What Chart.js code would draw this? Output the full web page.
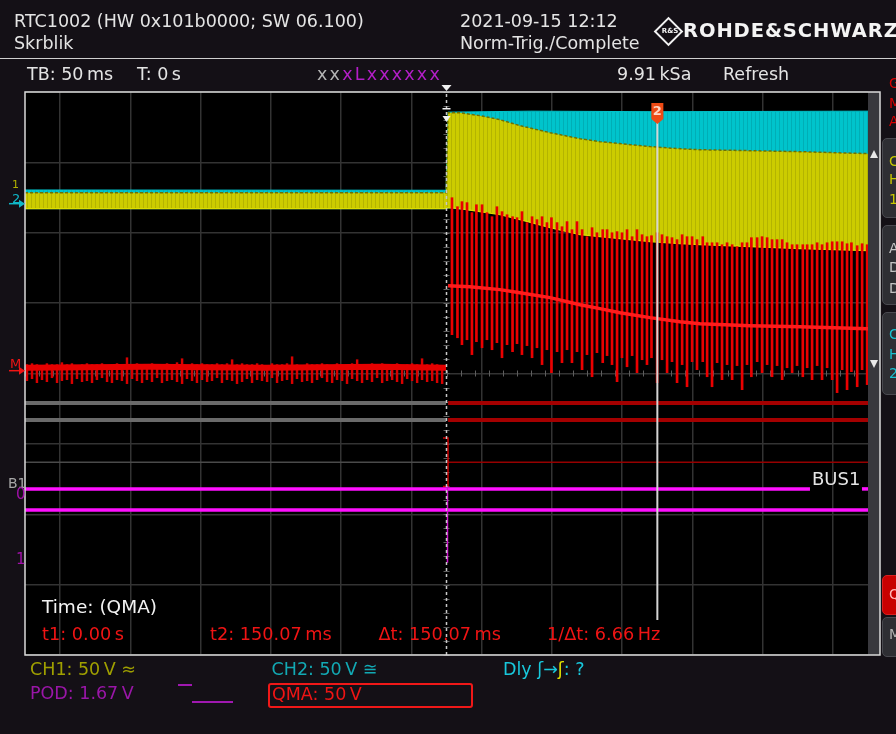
<!DOCTYPE html>
<html>
<head>
<meta charset="utf-8">
<title>RTC1002 – Skrblik</title>
<script src="https://cdn.jsdelivr.net/npm/chart.js@4.4.1/dist/chart.umd.min.js"></script>
<style>
  html, body { margin: 0; padding: 0; background: #141016; }
  #screen { position: relative; width: 896px; height: 734px; overflow: hidden; background: #141016; }
  #scope { position: absolute; left: 0; top: 0; }
  .t { position: absolute; font-family: 'DejaVu Sans', sans-serif; font-size: 17.5px; line-height: 1; white-space: pre; color: #e4e4e4; }
  .hr { position: absolute; left: 0; top: 57.5px; width: 896px; height: 1.5px; background: #cfcfcf; }
  .logo { position: absolute; left: 658px; top: 21px; width: 17px; height: 17px; border: 2px solid #f2f2f2; transform: rotate(45deg); }
  .logo span { position: absolute; left: 1px; top: 3px; font-family: 'DejaVu Sans', sans-serif; font-size: 7px; font-weight: bold; color: #f2f2f2; transform: rotate(-45deg); }
  .brand { font-weight: bold; font-size: 19.5px; letter-spacing: 0.9px; color: #f4f4f4; }
  .tab { position: absolute; left: 882px; width: 24px; background: #2e2e33; border: 1px solid #4a4a50; border-radius: 5px; box-sizing: border-box; }
  .side { font-size: 14px; left: 889px; }
  .red { color: #f01414; }
  .qbox { position: absolute; left: 268px; top: 683px; width: 205px; height: 25px; border: 2px solid #f01818; border-radius: 3px; box-sizing: border-box; }
  .pulse { position: absolute; height: 2px; background: #a018b0; }
</style>
</head>
<body>
<div id="screen">
  <canvas id="scope" width="896" height="734"></canvas>

  <!-- instrument header -->
  <div class="t" style="left:14px;top:13px">RTC1002 (HW 0x101b0000; SW 06.100)</div>
  <div class="t" style="left:14px;top:34.5px">Skrblik</div>
  <div class="t" style="left:460px;top:13px">2021-09-15 12:12</div>
  <div class="t" style="left:460px;top:34.5px">Norm-Trig./Complete</div>
  <div class="logo"><span>R&amp;S</span></div>
  <div class="t brand" style="left:683px;top:20.5px">ROHDE&amp;SCHWARZ</div>
  <div class="hr"></div>

  <!-- acquisition status row -->
  <div class="t" style="left:27px;top:66px">TB: 50&#8201;ms</div>
  <div class="t" style="left:137px;top:66px">T: 0&#8201;s</div>
  <div class="t" style="left:317px;top:66px;letter-spacing:2.2px"><span style="color:#b4b4b4">xx</span><span style="color:#b41ec8">xLxxxxxx</span></div>
  <div class="t" style="left:617px;top:66px">9.91&#8201;kSa</div>
  <div class="t" style="left:723px;top:66px">Refresh</div>

  <!-- side menu tabs -->
  <div class="t side" style="top:75.5px;color:#d80000">G</div>
  <div class="t side" style="top:95.5px;color:#d80000">M</div>
  <div class="t side" style="top:113.5px;color:#d80000">A</div>
  <div class="tab" style="top:138px;height:80px"></div>
  <div class="t side" style="top:153.5px;color:#c8c800">C</div>
  <div class="t side" style="top:171.5px;color:#c8c800">H</div>
  <div class="t side" style="top:191.5px;color:#c8c800">1</div>
  <div class="tab" style="top:225px;height:80px"></div>
  <div class="t side" style="top:240.5px;color:#c4c4c4">A</div>
  <div class="t side" style="top:259.5px;color:#c4c4c4">D</div>
  <div class="t side" style="top:280.5px;color:#c4c4c4">D</div>
  <div class="tab" style="top:312px;height:83px"></div>
  <div class="t side" style="top:326.5px;color:#18c0d0">C</div>
  <div class="t side" style="top:346.5px;color:#18c0d0">H</div>
  <div class="t side" style="top:365.5px;color:#18c0d0">2</div>
  <div class="tab" style="top:575px;height:40px;background:#c80000;border-color:#d82020"></div>
  <div class="t side" style="top:586.5px;color:#ffb4b4">Q</div>
  <div class="tab" style="top:617px;height:40px"></div>
  <div class="t side" style="top:626.5px;color:#b4b4b4">M</div>

  <!-- channel markers on the left edge -->
  <div class="t" style="left:12px;top:178.5px;font-size:11px;color:#b0b000">1</div>
  <div class="t" style="left:12px;top:191.5px;font-size:13px;color:#10b8c8">2</div>
  <div class="t" style="left:10px;top:356.5px;font-size:13px;color:#f01414">M</div>
  <div class="t" style="left:8px;top:475.5px;font-size:14px;color:#a8a8a8">B1</div>
  <div class="t" style="left:16px;top:486.5px;font-size:15px;color:#a010a8">0</div>
  <div class="t" style="left:16px;top:551.5px;font-size:15px;color:#a010a8">1</div>
  <div class="t" style="left:812px;top:469.5px;font-size:18px;color:#e4e4e4">BUS1</div>

  <!-- cursor measurement readout -->
  <div class="t" style="left:42px;top:598px;font-size:18.5px;color:#f2f2f2">Time: (QMA)</div>
  <div class="t red" id="t1txt" style="left:42px;top:625.5px;font-size:17.7px"></div>
  <div class="t red" id="t2txt" style="left:210px;top:625.5px;font-size:17.7px"></div>
  <div class="t red" id="dttxt" style="left:378.5px;top:625.5px;font-size:17.7px"></div>
  <div class="t red" id="ftxt" style="left:547px;top:625.5px;font-size:17.7px"></div>

  <!-- channel settings footer -->
  <div class="t" style="left:30px;top:661px;color:#a0a000">CH1: 50&#8201;V &#8776;</div>
  <div class="t" style="left:271.5px;top:661px;color:#12a9b4">CH2: 50&#8201;V &#8773;</div>
  <div class="t" style="left:503px;top:661px;color:#18c8dc">Dly &#643;&#8594;<span style="color:#e0e000">&#643;</span>: ?</div>
  <div class="t" style="left:30px;top:684.5px;color:#9a16a8">POD: 1.67&#8201;V</div>
  <div class="pulse" style="left:178px;top:684px;width:14px"></div>
  <div class="pulse" style="left:192px;top:700.5px;width:41px"></div>
  <div class="qbox"></div>
  <div class="t red" style="left:272px;top:686px">QMA: 50&#8201;V</div>
</div>

<script>
// ---- time base / vertical settings ----
const timeMin = -300, timeMax = 300, msPerDiv = 50;   // 12 div x 50 ms
const halfDivs = 4;                                   // 8 vertical divisions
const voltsPerDiv = 50;
const chGroundDiv = 2.47;    // CH1/CH2 ground marker, divisions above centre
const qmaGroundDiv = 0.04;   // QMA ground marker

// ---- CH1 (yellow) envelope, ms / V ----
const ch1Time = [-300, -0.3, 1.1, 9.6, 23.8, 38.1, 52.3, 73.7, 95.0, 109.2, 130.6, 144.8, 166.2, 180.4, 216.0, 251.6, 300];
const ch1High = [5.0, 5.0, 61.8, 61.8, 59.7, 56.8, 52.6, 47.6, 43.3, 41.2, 39.1, 37.7, 36.2, 35.5, 34.8, 34.1, 32.7];
const ch1Low  = [-6.4, -6.4, -5.7, -6.4, -8.5, -10.7, -14.2, -19.9, -24.9, -26.3, -28.4, -29.8, -31.3, -32.0, -33.4, -34.8, -36.2];

// ---- CH2 (cyan) envelope ----
const ch2Time = [-300, -0.3, 1.1, 60.0, 150.0, 300];
const ch2High = [6.9, 6.7, 62.2, 62.9, 62.5, 62.9];
const ch2Low  = [-6.4, -6.4, -5.7, -12.0, -25.0, -36.0];

// ---- QMA (red) baseline ----
const qmaPreTime  = [-300, -212, -131, -47, -0.3];
const qmaPreLevel = [2.1, 2.8, 2.1, 2.8, 2.1];
const qmaPostTime  = [1.1, 16.7, 38.1, 52.3, 73.7, 95.0, 109.2, 123.5, 144.8, 166.2, 180.4, 216.0, 251.6, 300];
const qmaPostLevel = [60.4, 59.7, 57.6, 55.4, 51.9, 46.9, 44.1, 41.2, 37.7, 34.8, 33.4, 32.0, 31.3, 29.8];

// ---- QMA spikes before the trigger ----
const preSpikeTime = [
  -298.6, -295.0, -291.5, -287.9, -284.4, -280.8, -277.2, -273.7, -270.1, -266.6,
  -263.0, -259.4, -255.9, -252.3, -248.8, -245.2, -241.6, -238.1, -234.5, -231.0,
  -227.4, -223.8, -220.3, -216.7, -213.2, -209.6, -206.0, -202.5, -198.9, -195.4,
  -191.8, -188.2, -184.7, -181.1, -177.6, -174.0, -170.4, -166.9, -163.3, -159.8,
  -156.2, -152.6, -149.1, -145.5, -142.0, -138.4, -134.8, -131.3, -127.7, -124.2,
  -120.6, -117.0, -113.5, -109.9, -106.4, -102.8, -99.2, -95.7, -92.1, -88.6,
  -85.0, -81.4, -77.9, -74.3, -70.8, -67.2, -63.6, -60.1, -56.5, -53.0,
  -49.4, -45.8, -42.3, -38.7, -35.2, -31.6, -28.0, -24.5, -20.9, -17.4,
  -13.8, -10.2, -6.7, -3.1];
const preSpikeHigh = [
  4.3, 5.0, 4.3, 3.6, 5.0, 4.3, 4.3, 5.7, 4.3, 5.0,
  3.6, 4.3, 5.0, 4.3, 4.3, 5.0, 3.6, 4.3, 5.0, 4.3,
  9.2, 4.3, 5.0, 4.3, 3.6, 5.0, 4.3, 4.3, 5.0, 4.3,
  5.7, 8.5, 3.6, 5.0, 4.3, 5.0, 4.3, 4.3, 5.0, 4.3,
  5.0, 7.8, 4.3, 5.0, 4.3, 4.3, 5.0, 4.3, 3.6, 5.0,
  4.3, 4.3, 5.0, 9.9, 4.3, 3.6, 5.0, 4.3, 4.3, 5.0,
  4.3, 3.6, 5.0, 4.3, 4.3, 5.0, 7.8, 4.3, 3.6, 5.0,
  4.3, 5.0, 4.3, 4.3, 5.0, 3.6, 4.3, 5.0, 4.3, 8.5,
  4.3, 5.0, 4.3, 3.6];
const preSpikeLow = [
  -7.1, -5.7, -8.5, -6.4, -7.8, -5.0, -8.5, -7.1, -6.4, -9.2,
  -5.7, -7.8, -7.1, -8.5, -6.4, -5.0, -7.8, -8.5, -6.4, -7.1,
  -9.2, -5.7, -7.1, -8.5, -6.4, -7.8, -5.0, -8.5, -7.1, -6.4,
  -7.8, -9.2, -5.7, -7.1, -8.5, -6.4, -7.8, -7.1, -5.0, -8.5,
  -6.4, -7.1, -9.2, -7.8, -5.7, -8.5, -6.4, -7.1, -7.8, -5.0,
  -8.5, -7.1, -6.4, -9.2, -5.7, -7.8, -7.1, -8.5, -6.4, -5.0,
  -7.8, -8.5, -6.4, -7.1, -9.2, -5.7, -7.1, -8.5, -6.4, -7.8,
  -5.0, -8.5, -7.1, -6.4, -7.8, -9.2, -5.7, -7.1, -8.5, -6.4,
  -7.8, -7.1, -8.5, -9.2];

// ---- QMA spikes after the trigger ----
const qmaSpikeTime = [
  3.9, 7.8, 11.0, 14.6, 18.1, 21.3, 25.3, 28.8, 32.4, 35.9,
  39.5, 43.1, 47.0, 50.2, 53.7, 57.3, 60.9, 64.4, 68.0, 71.5,
  74.7, 78.7, 82.2, 85.8, 89.3, 92.9, 96.5, 100.0, 103.6, 107.1,
  111.2, 114.3, 117.8, 121.4, 124.9, 128.5, 132.1, 135.6, 139.2, 142.7,
  145.9, 149.9, 153.4, 157.0, 160.5, 164.1, 167.7, 171.2, 174.8, 178.3,
  182.4, 185.5, 189.0, 192.6, 196.1, 199.7, 203.3, 206.8, 210.4, 213.9,
  217.0, 221.1, 224.6, 228.2, 231.7, 235.3, 238.9, 242.4, 246.0, 249.5,
  253.6, 256.7, 260.2, 263.8, 267.3, 270.9, 274.5, 278.0, 281.6, 285.1,
  288.2, 292.3, 295.8, 299.4];
const qmaSpikeHigh = [
  122.9, 116.5, 120.1, 119.4, 112.3, 117.9, 117.9, 112.3, 109.4, 116.5,
  113.0, 110.8, 109.4, 108.7, 113.0, 105.2, 109.4, 107.3, 109.4, 105.2,
  108.7, 105.2, 102.3, 105.9, 100.2, 105.9, 100.2, 95.2, 101.6, 98.0,
  100.2, 100.2, 98.0, 98.8, 98.0, 100.2, 95.2, 100.2, 96.6, 95.2,
  95.9, 98.0, 96.6, 95.2, 94.5, 93.1, 96.6, 95.2, 95.2, 93.1,
  95.2, 90.9, 90.9, 90.9, 89.5, 90.9, 89.5, 88.1, 90.9, 90.9,
  94.5, 94.5, 95.2, 94.5, 93.1, 93.1, 93.1, 90.9, 89.5, 89.5,
  89.5, 89.5, 89.5, 90.9, 89.5, 90.9, 91.6, 91.6, 91.6, 90.2,
  90.9, 88.8, 90.2, 89.5];
const qmaSpikeLow = [
  25.6, 23.4, 18.5, 22.0, 11.4, 20.6, 16.3, 22.0, 14.9, 19.9,
  9.2, 18.5, 13.5, 19.2, 11.4, 17.8, 9.2, 16.3, 4.3, 14.9,
  -1.4, 13.5, 5.7, 14.9, 5.7, 13.5, 0.7, 11.4, -4.3, 12.8,
  5.7, 10.7, 4.3, -7.8, 9.2, 2.8, 10.7, -1.4, 7.8, 4.3,
  9.2, -8.5, 7.8, -1.4, 6.4, -8.5, 4.3, -11.4, 6.4, 0.7,
  6.4, -4.3, -11.4, 5.7, -6.4, 4.3, -6.4, 3.6, -13.5, 4.3,
  -4.3, 6.4, -1.4, 4.3, -4.3, 3.6, -6.4, 2.1, -1.4, 3.6,
  -4.3, 2.1, -6.4, 3.6, -6.4, 2.1, -6.4, -15.6, 0.7, -13.5,
  -0.7, -11.4, 0.7, -9.9];

// ---- logic probe lanes and bus (divisions) ----
const podLevel = [-0.42, -0.66, -1.26];
const podEdge = [-0.3, 1.1];                  // last sample before / first after the edge
const podStepTime = [-2.5, 1.07, 1.07, -2.5];
const podStepLevel = [-0.915, -0.915, -1.607, -1.607];
const busLevel = [-1.64, -1.94];
const busLabelGap = [258.7, 295.7];           // BUS1 caption interrupts the upper line
const busEdgeTime = [0.7, 0.7];
const busEdgeLevel = [-1.60, -2.69];

// ---- cursors ----
const cursorT1 = 0;
const cursorT2 = 150.07;

// readout text comes from the cursor values
const dt = cursorT2 - cursorT1;
document.getElementById('t1txt').textContent = 't1: ' + (cursorT1 / 1000).toFixed(2) + '\u2009s';
document.getElementById('t2txt').textContent = 't2: ' + cursorT2.toFixed(2) + '\u2009ms';
document.getElementById('dttxt').textContent = '\u0394t: ' + dt.toFixed(2) + '\u2009ms';
document.getElementById('ftxt').textContent = '1/\u0394t: ' + (1000 / dt).toFixed(2) + '\u2009Hz';

// ---- helpers ----
const pts = (ts, vs) => ts.map((t, i) => ({ x: t, y: vs[i] }));
const bars = (ts, lo, hi) => ts.map((t, i) => ({ x: t, y: [lo[i], hi[i]] }));
const range = g => ({ min: (-halfDivs - g) * voltsPerDiv, max: (halfDivs - g) * voltsPerDiv });
const line = o => Object.assign({ type: 'line', pointRadius: 0, tension: 0, fill: false,
                                  borderCapStyle: 'butt', borderJoinStyle: 'miter' }, o);

const canvas = document.getElementById('scope');
const ctx2d = canvas.getContext('2d');
function stripes(base, dark) {
  const tile = document.createElement('canvas');
  tile.width = 4; tile.height = 1;
  const g = tile.getContext('2d');
  g.fillStyle = base; g.fillRect(0, 0, 4, 1);
  g.fillStyle = dark; g.fillRect(3, 0, 1, 1);
  return ctx2d.createPattern(tile, 'repeat');
}
const yellowFill = stripes('#cccc00', '#b4b400');
const cyanFill = stripes('#00c4cc', '#00aeb6');

const datasets = [
  line({ label: 'CH2 max', data: pts(ch2Time, ch2High), yAxisID: 'yCh', borderColor: '#00c4cc', borderWidth: 1,
         backgroundColor: cyanFill, fill: '+1', order: 30 }),
  line({ label: 'CH2 min', data: pts(ch2Time, ch2Low), yAxisID: 'yCh', borderColor: '#00c4cc', borderWidth: 1, order: 29 }),
  line({ label: 'CH1 max', data: pts(ch1Time, ch1High), yAxisID: 'yCh', borderColor: '#707000', borderWidth: 1.5,
         borderDash: [3, 2], backgroundColor: yellowFill, fill: '+1', order: 28 }),
  line({ label: 'CH1 min', data: pts(ch1Time, ch1Low), yAxisID: 'yCh', borderColor: '#dcdc00', borderWidth: 1.2, order: 27 }),
  { type: 'bar', label: 'QMA spikes', data: bars(qmaSpikeTime, qmaSpikeLow, qmaSpikeHigh), yAxisID: 'yQ',
    backgroundColor: '#ea0000', barThickness: 2, grouped: false, order: 26 },
  { type: 'bar', label: 'QMA spikes pre', data: bars(preSpikeTime, preSpikeLow, preSpikeHigh), yAxisID: 'yQ',
    backgroundColor: '#d80000', barThickness: 1.8, grouped: false, order: 25 },
  line({ label: 'QMA pre', data: pts(qmaPreTime, qmaPreLevel), yAxisID: 'yQ', borderColor: '#e60000', borderWidth: 6, order: 24 }),
  line({ label: 'QMA post', data: pts(qmaPostTime, qmaPostLevel), yAxisID: 'yQ', borderColor: '#ff1c1c', borderWidth: 3.5, order: 23 })
];

const podWidth = [4, 4, 1.5];
podLevel.forEach((lv, i) => {
  datasets.push(line({ label: 'D' + i + ' pre', data: [{ x: timeMin, y: lv }, { x: podEdge[0], y: lv }],
    yAxisID: 'yDiv', borderColor: i < 2 ? '#6a6a6a' : '#4a4a4a', borderWidth: podWidth[i], order: 12 }));
  datasets.push(line({ label: 'D' + i + ' post', data: [{ x: podEdge[1], y: lv }, { x: timeMax, y: lv }],
    yAxisID: 'yDiv', borderColor: i < 2 ? '#a40000' : '#960000', borderWidth: podWidth[i], order: 12 }));
});
datasets.push(line({ label: 'D step', data: pts(podStepTime, podStepLevel), yAxisID: 'yDiv',
  borderColor: '#d00000', borderWidth: 1.5, order: 11 }));
datasets.push(line({ label: 'BUS1 hi a', data: [{ x: timeMin, y: busLevel[0] }, { x: busLabelGap[0], y: busLevel[0] }],
  yAxisID: 'yDiv', borderColor: '#ff10ff', borderWidth: 3.5, order: 10 }));
datasets.push(line({ label: 'BUS1 hi b', data: [{ x: busLabelGap[1], y: busLevel[0] }, { x: timeMax, y: busLevel[0] }],
  yAxisID: 'yDiv', borderColor: '#ff10ff', borderWidth: 3.5, order: 10 }));
datasets.push(line({ label: 'BUS1 lo', data: [{ x: timeMin, y: busLevel[1] }, { x: timeMax, y: busLevel[1] }],
  yAxisID: 'yDiv', borderColor: '#ff10ff', borderWidth: 3.5, order: 10 }));
datasets.push(line({ label: 'BUS1 edge', data: pts(busEdgeTime, busEdgeLevel), yAxisID: 'yDiv',
  borderColor: '#d010d0', borderWidth: 1.5, order: 9 }));

// screen furniture: black screen, centre-axis ticks, cursors, markers, frame, scroll bar
const scopeDecor = {
  id: 'scopeDecor',
  beforeDraw(chart) {
    const { ctx, chartArea: a } = chart;
    ctx.save();
    ctx.fillStyle = '#000';
    ctx.fillRect(a.left, a.top, a.right - a.left + 12, a.bottom - a.top);
    ctx.restore();
  },
  beforeDatasetsDraw(chart) {
    const { ctx, chartArea: a, scales } = chart;
    const cx = scales.x.getPixelForValue(0), cy = scales.yDiv.getPixelForValue(0);
    ctx.save();
    ctx.strokeStyle = '#5e5e5e';
    ctx.lineWidth = 1;
    ctx.beginPath();
    for (let t = timeMin; t <= timeMax; t += msPerDiv / 5) {
      const px = Math.round(scales.x.getPixelForValue(t)) + 0.5;
      ctx.moveTo(px, cy - 3); ctx.lineTo(px, cy + 3);
    }
    for (let d = -halfDivs; d <= halfDivs + 1e-6; d += 0.2) {
      const py = Math.round(scales.yDiv.getPixelForValue(d)) + 0.5;
      ctx.moveTo(cx - 3, py); ctx.lineTo(cx + 3, py);
    }
    ctx.stroke();
    ctx.restore();
  },
  afterDatasetsDraw(chart) {
    const { ctx, chartArea: a, scales } = chart;
    const x1 = scales.x.getPixelForValue(cursorT1);
    const x2 = scales.x.getPixelForValue(cursorT2);
    ctx.save();
    // t1 cursor (dotted, on the trigger position)
    ctx.strokeStyle = '#c8c8c8';
    ctx.lineWidth = 1.5;
    ctx.setLineDash([3, 3]);
    ctx.beginPath(); ctx.moveTo(x1, a.top + 2); ctx.lineTo(x1, a.bottom); ctx.stroke();
    ctx.setLineDash([]);
    // t2 cursor
    ctx.strokeStyle = '#d4d4d4';
    ctx.lineWidth = 2;
    ctx.beginPath(); ctx.moveTo(x2, a.top + 30); ctx.lineTo(x2, a.bottom - 35); ctx.stroke();
    ctx.fillStyle = '#ee4a14';
    ctx.beginPath();
    ctx.moveTo(x2 - 6, a.top + 11); ctx.lineTo(x2 + 6, a.top + 11); ctx.lineTo(x2 + 6, a.top + 27);
    ctx.lineTo(x2, a.top + 32); ctx.lineTo(x2 - 6, a.top + 27); ctx.closePath(); ctx.fill();
    ctx.fillStyle = '#ffd6c4';
    ctx.font = 'bold 13px "DejaVu Sans"';
    ctx.textAlign = 'center'; ctx.textBaseline = 'middle';
    ctx.fillText('2', x2, a.top + 20);
    // trigger position and level markers
    ctx.fillStyle = '#f0f0f0';
    ctx.beginPath(); ctx.moveTo(x1 - 5, a.top - 7); ctx.lineTo(x1 + 5, a.top - 7); ctx.lineTo(x1, a.top - 1); ctx.closePath(); ctx.fill();
    ctx.beginPath(); ctx.moveTo(x1 - 4, a.top + 24); ctx.lineTo(x1 + 4, a.top + 24); ctx.lineTo(x1, a.top + 30); ctx.closePath(); ctx.fill();
    ctx.fillRect(x1 - 4, a.top + 16, 8, 1.5);
    // scroll bar strip
    ctx.fillStyle = '#38383d';
    ctx.fillRect(a.right, a.top, 12, a.bottom - a.top);
    ctx.fillStyle = '#e8e8e8';
    ctx.beginPath(); ctx.moveTo(a.right + 2, 158); ctx.lineTo(a.right + 10, 158); ctx.lineTo(a.right + 6, 150); ctx.closePath(); ctx.fill();
    ctx.beginPath(); ctx.moveTo(a.right + 2, 360); ctx.lineTo(a.right + 10, 360); ctx.lineTo(a.right + 6, 368); ctx.closePath(); ctx.fill();
    // frame
    ctx.strokeStyle = '#dadada';
    ctx.lineWidth = 1.5;
    ctx.strokeRect(a.left, a.top, a.right - a.left + 12, a.bottom - a.top);
    ctx.restore();
  },
  afterDraw(chart) {
    const { ctx, chartArea: a, scales } = chart;
    // ground markers left of the screen
    const arrow = (y, color) => {
      ctx.strokeStyle = color; ctx.fillStyle = color; ctx.lineWidth = 1.5;
      ctx.beginPath(); ctx.moveTo(9, y); ctx.lineTo(a.left - 4, y); ctx.stroke();
      ctx.beginPath(); ctx.moveTo(a.left - 6, y - 4); ctx.lineTo(a.left, y); ctx.lineTo(a.left - 6, y + 4); ctx.closePath(); ctx.fill();
    };
    ctx.save();
    arrow(scales.yCh.getPixelForValue(0) + 4, '#10b8c8');
    arrow(scales.yQ.getPixelForValue(0), '#f01414');
    ctx.restore();
  }
};

const gridStyle = { color: '#333333', lineWidth: 1.5, drawTicks: false };
new Chart(canvas, {
  type: 'line',
  data: { datasets },
  options: {
    responsive: false,
    animation: false,
    events: [],
    layout: { padding: { left: 25, top: 92, right: 28, bottom: 79 } },
    plugins: { legend: { display: false }, tooltip: { enabled: false } },
    scales: {
      x: { type: 'linear', min: timeMin, max: timeMax, offset: false,
           ticks: { stepSize: msPerDiv, display: false }, grid: gridStyle, border: { display: false },
           afterFit(s) { s.height = 0; } },
      yDiv: { type: 'linear', position: 'left', min: -halfDivs, max: halfDivs,
              ticks: { stepSize: 1, display: false }, grid: gridStyle, border: { display: false },
              afterFit(s) { s.width = 0; } },
      yCh: Object.assign({ type: 'linear', display: false }, range(chGroundDiv)),
      yQ: Object.assign({ type: 'linear', display: false }, range(qmaGroundDiv))
    }
  },
  plugins: [scopeDecor]
});
</script>
</body>
</html>
